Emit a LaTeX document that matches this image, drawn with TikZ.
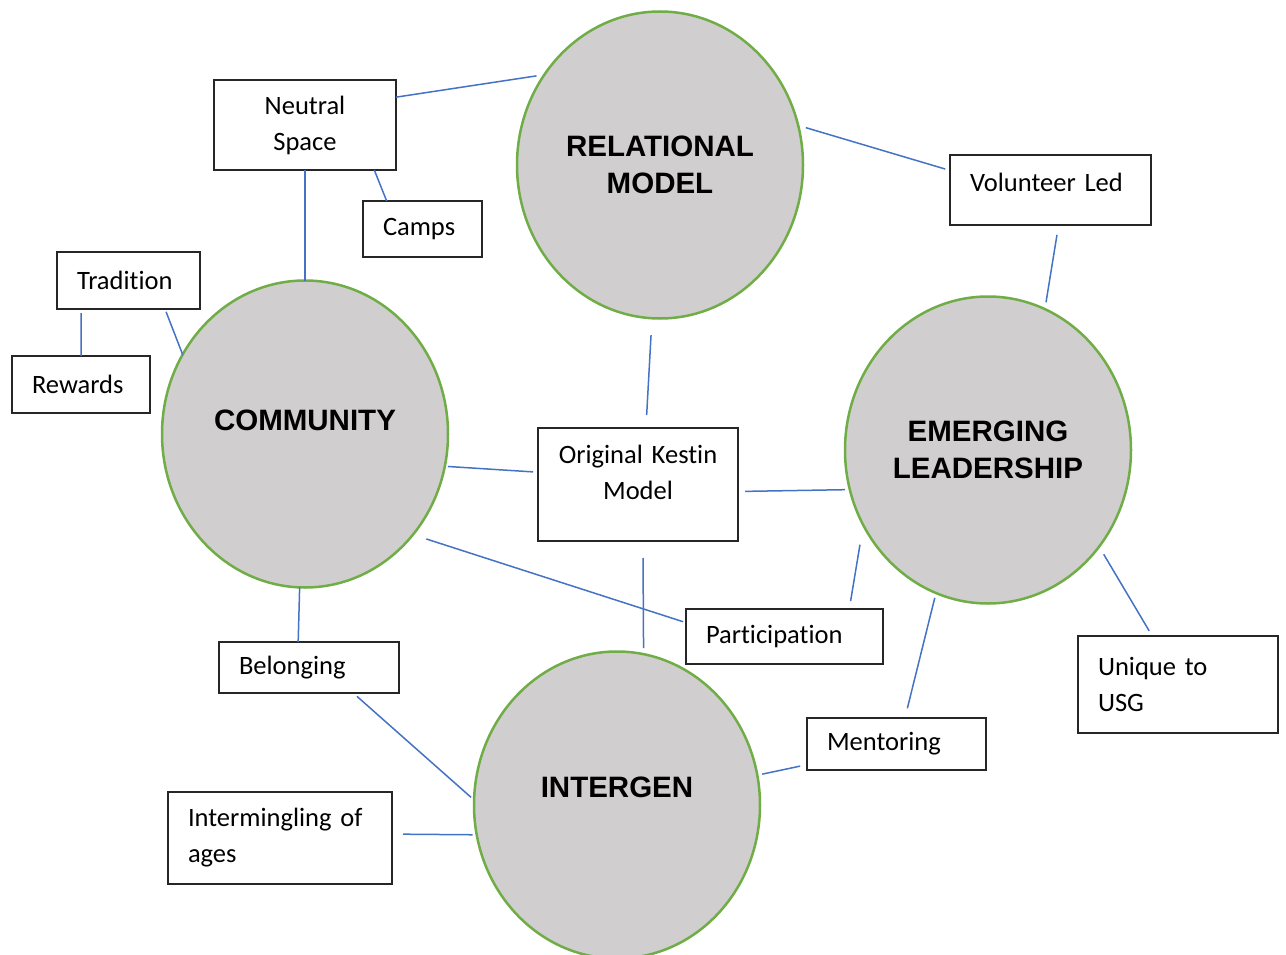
\documentclass[tikz,border=0pt]{standalone}
\usepackage{fontspec}
\usepackage{xcolor}
\usetikzlibrary{shapes.geometric}

\newfontfamily\boxfont{Carlito}[Ligatures=NoCommon, WordSpace=0.75]
\newfontfamily\hubfont{Liberation Sans}

\definecolor{hubgray}{HTML}{D0CECE}
\definecolor{hubgreen}{HTML}{70AD47}
\definecolor{linkblue}{HTML}{4472C4}
\definecolor{boxline}{HTML}{262626}

\begin{document}
\begin{tikzpicture}[x=1pt, y=-1pt,
	hub/.style={ellipse, draw=hubgreen, line width=2.5pt, fill=hubgray,
		minimum width=286pt, minimum height=307pt, inner sep=0pt, outer sep=0pt,
		align=center, font=\hubfont\bfseries\fontsize{29.5}{37}\selectfont},
	box/.style={draw=boxline, line width=2pt, fill=white, inner xsep=20pt,
		inner ysep=4pt, outer sep=0pt, align=left,
		font=\boxfont\fontsize{26.5}{36}\selectfont},
	link/.style={draw=linkblue, line width=1.5pt}]
	\useasboundingbox (0,0) rectangle (1286,955);
	\clip (0,0) rectangle (1286,955);

	\node[hub] (rel) at (660,165) {RELATIONAL\\MODEL};
	\node[hub, text depth=28pt] (comm) at (305,434) {COMMUNITY};
	\node[hub] (emer) at (988,450) {EMERGING\\LEADERSHIP};
	\node[hub, text depth=36pt] (inter) at (617,805) {INTERGEN};

	\node[box, text width=142pt, minimum height=90pt, align=center] (neutral) at (305,125) {Neutral\\Space};
	\node[box, text width=79pt, minimum height=56pt] (camps) at (422.5,229) {Camps};
	\node[box, text width=103pt, minimum height=57pt] (trad) at (128.5,280.5) {Tradition};
	\node[box, text width=98pt, minimum height=57pt] (rewards) at (81,384.5) {Rewards};
	\node[box, text width=161pt, minimum height=70pt, text depth=16pt] (vol) at (1050.5,190) {Volunteer Led};
	\node[box, text width=160pt, minimum height=113pt, text depth=61pt, align=center] (kestin) at (638,484.5) {Original Kestin\\Model};
	\node[box, text width=157pt, minimum height=55pt] (partic) at (784.5,636.5) {Participation};
	\node[box, text width=140pt, minimum height=51pt] (belong) at (309,667.5) {Belonging};
	\node[box, text width=160pt, minimum height=97pt] (unique) at (1178,684.5) {Unique to\\USG};
	\node[box, text width=139pt, minimum height=52pt] (mentor) at (896.5,744) {Mentoring};
	\node[box, text width=184pt, minimum height=92pt] (ages) at (280,838) {Intermingling of\\ages};

	\draw[link, shorten >=8pt] (neutral.17) -- (rel.142);
	\draw[link] (neutral.-33) -- (camps.142);
	\draw[link] (neutral) -- (comm);
	\draw[link, shorten <=3pt] (trad.-38) -- (comm.147);
	\draw[link, shorten <=4pt] (trad.211) -- (rewards.north);
	\draw[link, shorten <=8pt, shorten >=5pt] (rel.16) -- (vol.169);
	\draw[link, shorten <=10pt, shorten >=7pt] (vol.-77) -- (emer.68);
	\draw[link, shorten <=17pt, shorten >=13pt] (rel.-93) -- (kestin.82);
	\draw[link, shorten <=3pt, shorten >=5pt] (comm.-13) -- (kestin.173);
	\draw[link, shorten <=7pt, shorten >=5pt] (kestin.-4) -- (emer.196);
	\draw[link, shorten <=14pt, shorten >=3pt] (comm.-43) -- (partic.172);
	\draw[link, shorten <=8pt, shorten >=20pt] (partic.23) -- (emer.211);
	\draw[link, shorten <=17pt, shorten >=6pt] (kestin.-85) -- (inter.80);
	\draw[link] (comm.-92) -- (belong.113);
	\draw[link, shorten <=5pt, shorten >=4pt] (belong.-30) -- (inter.178);
	\draw[link, shorten <=11pt, shorten >=4pt] (ages.2) -- (inter.192);
	\draw[link, shorten <=5pt, shorten >=7pt] (inter.12) -- (mentor.193);
	\draw[link, shorten <=10pt, shorten >=5pt] (mentor.72) -- (emer.250);
	\draw[link, shorten <=9pt, shorten >=6pt] (emer.-41) -- (unique.118);
\end{tikzpicture}
\end{document}
